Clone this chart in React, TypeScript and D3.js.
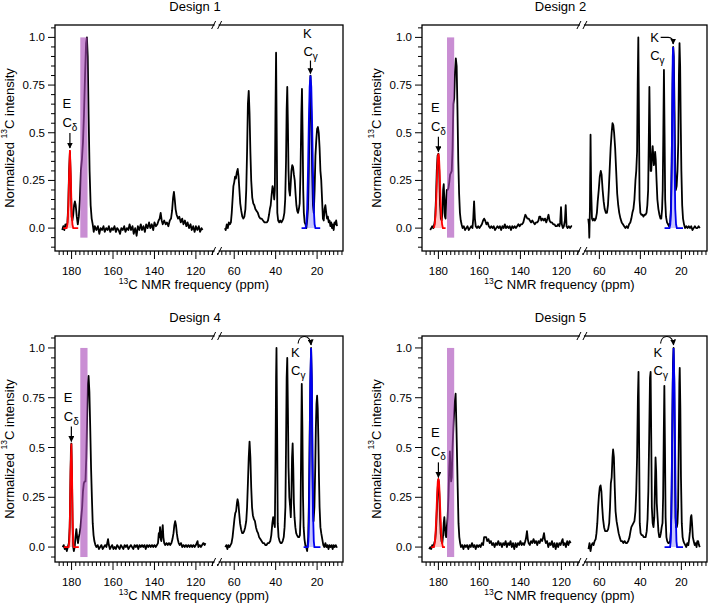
import React from 'react';
import * as d3 from 'd3';

type Pt = [number, number]; // [ppm, normalized intensity]

const titles = ['Design 1', 'Design 2', 'Design 4', 'Design 5'];
const xTicksLeft = [180, 160, 140, 120];
const xTicksRight = [60, 40, 20];
const yTicks = [0, 0.25, 0.5, 0.75, 1.0];
const yTickLabels = ['0.0', '0.25', '0.5', '0.75', '1.0'];
const bandPpm: Pt = [175.8, 172.3];
const bandInt: Pt = [-0.05, 1.0];

// ---- Design 1 ----
const d1Left: Pt[] = [
  [184.5, -0.01], [184, 0.01], [183.5, -0.01], [183, 0.02], [182.5, 0.01], [182, 0.03], [181.6, 0.12], [181.2, 0.3],
  [180.8, 0.4], [180.4, 0.25], [180, 0.06], [179.6, 0.04], [179.2, 0.07], [178.8, 0.12], [178.4, 0.14], [178, 0.12],
  [177.5, 0.06], [177, 0.02], [176.5, 0.06], [176, 0.15], [175.5, 0.3], [175, 0.36], [174.5, 0.45], [174, 0.6],
  [173.5, 0.8], [173, 0.97], [172.6, 1.0], [172.2, 0.9], [171.8, 0.6], [171.3, 0.3], [170.8, 0.12], [170.3, 0.05],
  [169.8, 0.02], [169.3, -0.02], [168.8, 0.01], [168, -0.01], [167.3, 0.01], [166.6, -0.03], [166, 0.0], [165.3, -0.01],
  [164.6, 0.01], [164, -0.02], [163.3, 0.0], [162.6, -0.01], [162, 0.01], [161.3, -0.02], [160.6, 0.0], [160, -0.01],
  [159.3, 0.01], [158.6, -0.02], [158, 0.0], [157.3, -0.01], [156.6, -0.03], [156, 0.0], [155.3, -0.01], [154.6, 0.01],
  [154, -0.02], [153.3, 0.0], [152.6, -0.01], [152, 0.02], [151.3, -0.01], [150.6, 0.01], [150, -0.03], [149.3, 0.0],
  [148.6, -0.04], [148, 0.01], [147.3, -0.01], [146.6, 0.02], [146, -0.01], [145.3, 0.01], [144.6, -0.02], [144, 0.02],
  [143.3, 0.0], [142.6, 0.03], [142, 0.0], [141.3, 0.02], [140.6, -0.01], [140, 0.03], [139.3, 0.01], [138.6, 0.02],
  [138, 0.04], [137.5, 0.05], [137, 0.08], [136.5, 0.04], [136, 0.02], [135.3, 0.04], [134.6, 0.02], [134, 0.03],
  [133.3, 0.01], [132.6, 0.04], [132, 0.05], [131.5, 0.09], [131, 0.16], [130.6, 0.19], [130.2, 0.15], [129.8, 0.1],
  [129.3, 0.07], [128.6, 0.05], [128, 0.06], [127.3, 0.03], [126.6, 0.05], [126, 0.02], [125.3, 0.04], [124.6, 0.01],
  [124, 0.03], [123.3, 0.0], [122.6, 0.02], [122, -0.01], [121.3, 0.01], [120.6, -0.02], [120, 0.01], [119.3, -0.01],
  [118.6, 0.01], [118, -0.02], [117.3, 0.0], [116.8, -0.01],
];
const d1Right: Pt[] = [
  [64.5, 0.0], [64.1, -0.01], [63.6, 0.02], [63.1, 0.0], [62.6, 0.03], [62.1, 0.02], [61.6, 0.03], [61.2, 0.08],
  [60.8, 0.15], [60.4, 0.22], [60, 0.24], [59.6, 0.27], [59.2, 0.26], [58.8, 0.29], [58.3, 0.31], [57.9, 0.27],
  [57.5, 0.2], [57.1, 0.13], [56.6, 0.09], [56.1, 0.06], [55.6, 0.05], [55.1, 0.06], [54.6, 0.1], [54.2, 0.2],
  [53.8, 0.4], [53.4, 0.65], [53, 0.72], [52.6, 0.6], [52.2, 0.4], [51.8, 0.25], [51.3, 0.16], [50.8, 0.13],
  [50.3, 0.12], [49.8, 0.1], [49.2, 0.09], [48.6, 0.08], [48, 0.06], [47.4, 0.05], [46.8, 0.05], [46.1, 0.04],
  [45.4, 0.03], [44.8, 0.03], [44.2, 0.03], [43.7, 0.04], [43.2, 0.07], [42.8, 0.1], [42.4, 0.12], [41.9, 0.18],
  [41.5, 0.22], [41.1, 0.2], [40.7, 0.15], [40.4, 0.2], [40.1, 0.6], [39.8, 0.92], [39.5, 0.5], [39.2, 0.08],
  [38.8, 0.04], [38.3, 0.03], [37.8, 0.04], [37.2, 0.03], [36.7, 0.04], [36.3, 0.05], [35.8, 0.08], [35.4, 0.15],
  [35, 0.35], [34.7, 0.62], [34.4, 0.74], [34.1, 0.55], [33.8, 0.3], [33.5, 0.2], [33.1, 0.17], [32.8, 0.22],
  [32.4, 0.3], [32, 0.33], [31.6, 0.32], [31.2, 0.28], [30.8, 0.25], [30.4, 0.18], [30, 0.12], [29.6, 0.09],
  [29.2, 0.08], [28.8, 0.1], [28.4, 0.13], [28, 0.3], [27.6, 0.6], [27.3, 0.73], [27, 0.5], [26.7, 0.2],
  [26.4, 0.08], [26, 0.03], [25.6, 0.02], [25.2, 0.0], [24.8, 0.04], [24.4, 0.1], [24, 0.3], [23.6, 0.6],
  [23.2, 0.8], [22.8, 0.6], [22.4, 0.3], [22, 0.12], [21.6, 0.08], [21.2, 0.2], [20.8, 0.38], [20.4, 0.46],
  [20, 0.52], [19.6, 0.53], [19.2, 0.5], [18.8, 0.42], [18.4, 0.3], [18, 0.25], [17.6, 0.15], [17.2, 0.05],
  [16.8, 0.04], [16.4, 0.1], [16, 0.12], [15.6, 0.08], [15.2, 0.05], [14.8, 0.06], [14.4, 0.03], [14, 0.04],
  [13.6, 0.01], [13.2, 0.03], [12.8, 0.0], [12.4, 0.02], [12, -0.01], [11.6, 0.03], [11.2, 0.02], [10.8, 0.04],
  [10.4, 0.01],
];
const d1Red: Pt[] = [
  [184, 0], [182.4, 0], [182, 0.02], [181.6, 0.1], [181.2, 0.28], [180.8, 0.41], [180.4, 0.28], [180, 0.1],
  [179.6, 0.02], [179.2, 0], [176.8, 0],
];
const d1Blue: Pt[] = [
  [27.5, 0], [25.6, 0], [25.2, 0.02], [24.8, 0.1], [24.4, 0.3], [24, 0.55], [23.6, 0.74], [23.2, 0.8],
  [22.8, 0.74], [22.4, 0.55], [22, 0.3], [21.6, 0.1], [21.2, 0.02], [20.8, 0], [18.5, 0],
];

// ---- Design 2 ----
const d2Left: Pt[] = [
  [184, -0.01], [183.5, 0.0], [183, 0.01], [182.5, 0.0], [182, 0.02], [181.6, 0.05], [181.2, 0.15], [180.8, 0.3],
  [180.4, 0.38], [180, 0.39], [179.6, 0.3], [179.2, 0.12], [178.8, 0.05], [178.4, 0.04], [178, 0.08], [177.7, 0.2],
  [177.4, 0.23], [177.1, 0.15], [176.8, 0.06], [176.5, 0.05], [176.2, 0.15], [175.9, 0.2], [175.5, 0.2], [175.1, 0.21],
  [174.7, 0.24], [174.3, 0.28], [173.9, 0.29], [173.5, 0.3], [173.1, 0.42], [172.7, 0.65], [172.3, 0.68], [171.9, 0.82],
  [171.5, 0.89], [171.1, 0.85], [170.7, 0.62], [170.3, 0.35], [169.9, 0.18], [169.5, 0.08], [169.1, 0.04], [168.7, 0.02],
  [168.2, 0.0], [167.6, 0.01], [167, -0.01], [166.4, 0.0], [165.8, 0.01], [165.2, -0.01], [164.6, 0.0], [164, 0.01],
  [163.4, 0.0], [163, 0.05], [162.6, 0.14], [162.2, 0.05], [161.8, 0.01], [161.2, 0.0], [160.6, 0.01], [160, 0.0],
  [159.4, 0.01], [158.8, 0.02], [158.2, 0.04], [157.7, 0.05], [157.2, 0.04], [156.6, 0.02], [156, 0.03], [155.4, 0.01],
  [154.8, 0.0], [154.2, 0.01], [153.6, 0.0], [153, 0.01], [152.4, -0.01], [151.8, 0.0], [151.2, 0.01], [150.6, 0.0],
  [150, 0.01], [149.4, -0.01], [148.8, 0.01], [148.2, 0.0], [147.6, 0.02], [147, 0.0], [146.4, 0.01], [145.8, 0.0],
  [145.2, 0.01], [144.6, -0.01], [144, 0.01], [143.4, 0.0], [142.8, 0.01], [142.2, 0.0], [141.6, 0.01], [141, 0.02],
  [140.4, 0.01], [139.8, 0.02], [139.2, 0.02], [138.6, 0.03], [138.1, 0.05], [137.6, 0.07], [137.1, 0.06], [136.6, 0.05],
  [136, 0.05], [135.4, 0.04], [134.8, 0.03], [134.2, 0.04], [133.6, 0.03], [133, 0.02], [132.4, 0.03], [131.8, 0.03],
  [131.2, 0.04], [130.8, 0.06], [130.3, 0.06], [129.8, 0.04], [129.2, 0.05], [128.6, 0.04], [128, 0.05], [127.4, 0.03],
  [126.8, 0.05], [126.3, 0.07], [125.8, 0.04], [125.2, 0.03], [124.6, 0.03], [124, 0.02], [123.4, 0.02], [122.8, 0.01],
  [122.2, 0.01], [121.6, 0.02], [121, 0.01], [120.6, 0.03], [120.2, 0.11], [119.8, 0.02], [119.3, 0.0], [118.8, 0.01],
  [118.3, 0.04], [117.9, 0.12], [117.5, 0.01], [117, 0.0], [116.4, 0.01], [115.8, 0.0], [115.2, 0.01], [114.8, 0.01],
];
const d2Right: Pt[] = [
  [65.4, 0.05], [65.1, 0.02], [64.9, -0.05], [64.6, 0.1], [64.3, 0.49], [64, 0.2], [63.6, 0.05], [63.2, 0.04],
  [62.7, 0.05], [62.2, 0.04], [61.7, 0.05], [61.2, 0.08], [60.8, 0.14], [60.3, 0.2], [59.8, 0.27], [59.3, 0.3],
  [58.9, 0.28], [58.4, 0.2], [57.9, 0.14], [57.4, 0.1], [56.8, 0.08], [56.3, 0.08], [55.8, 0.12], [55.4, 0.2],
  [55, 0.3], [54.5, 0.42], [54, 0.5], [53.6, 0.55], [53.2, 0.54], [52.8, 0.5], [52.3, 0.42], [51.8, 0.3],
  [51.3, 0.18], [50.8, 0.12], [50.3, 0.08], [49.7, 0.05], [49.1, 0.03], [48.5, 0.02], [47.9, 0.01], [47.3, 0.0],
  [46.7, 0.01], [46.1, 0.0], [45.5, 0.02], [44.9, 0.03], [44.4, 0.05], [43.9, 0.08], [43.4, 0.1], [42.9, 0.15],
  [42.4, 0.25], [42, 0.3], [41.6, 0.4], [41.3, 0.75], [41, 1.0], [40.7, 0.6], [40.4, 0.15], [40, 0.08],
  [39.5, 0.07], [39, 0.07], [38.5, 0.06], [38, 0.07], [37.5, 0.07], [37, 0.08], [36.6, 0.12], [36.2, 0.2],
  [35.9, 0.45], [35.6, 0.74], [35.3, 0.5], [35, 0.3], [34.7, 0.3], [34.3, 0.38], [34, 0.43], [33.7, 0.38],
  [33.4, 0.33], [33.1, 0.35], [32.8, 0.4], [32.5, 0.36], [32.1, 0.25], [31.7, 0.15], [31.2, 0.1], [30.7, 0.07],
  [30.2, 0.05], [29.8, 0.05], [29.4, 0.1], [29.1, 0.2], [28.8, 0.5], [28.5, 0.83], [28.2, 0.5], [27.9, 0.15],
  [27.5, 0.06], [27, 0.03], [26.5, 0.02], [26, 0.01], [25.5, 0.03], [25.1, 0.1], [24.7, 0.35], [24.3, 0.75],
  [24, 0.95], [23.7, 0.9], [23.3, 0.6], [23, 0.3], [22.7, 0.2], [22.3, 0.22], [21.9, 0.3], [21.5, 0.45],
  [21.2, 0.8], [20.9, 0.97], [20.6, 0.85], [20.3, 0.55], [20, 0.3], [19.6, 0.12], [19.2, 0.05], [18.7, 0.02],
  [18.2, 0.0], [17.6, 0.01], [17, 0.0], [16.4, 0.01], [15.8, 0.0], [15.2, 0.01], [14.6, -0.01], [14, 0.0],
  [13.4, 0.01], [12.8, 0.0], [12.2, 0.0], [11.6, 0.01], [11, 0.0],
];
const d2Red: Pt[] = [
  [182.2, 0], [181.8, 0.02], [181.4, 0.07], [181, 0.17], [180.6, 0.3], [180.3, 0.37], [180, 0.39], [179.7, 0.37],
  [179.4, 0.3], [179, 0.17], [178.6, 0.07], [178.2, 0.02], [177.8, 0], [176.5, 0],
];
const d2Blue: Pt[] = [
  [28.2, 0], [25.8, 0], [25.4, 0.02], [25, 0.1], [24.7, 0.35], [24.4, 0.7], [24.2, 0.9], [24, 0.95],
  [23.8, 0.9], [23.6, 0.7], [23.3, 0.35], [23, 0.1], [22.6, 0.02], [22.2, 0], [19.2, 0],
];

// ---- Design 4 ----
const d3Left: Pt[] = [
  [184.3, 0.0], [183.8, 0.01], [183.3, -0.01], [182.8, 0.0], [182.3, -0.02], [181.8, 0.0], [181.3, 0.02], [180.9, 0.1],
  [180.6, 0.3], [180.3, 0.5], [180.1, 0.52], [179.8, 0.35], [179.5, 0.1], [179.2, 0.0], [178.9, -0.02], [178.5, 0.0],
  [178.1, 0.05], [177.7, 0.09], [177.3, 0.05], [176.9, 0.02], [176.5, 0.05], [176.1, 0.07], [175.7, 0.1], [175.3, 0.15],
  [174.9, 0.2], [174.5, 0.28], [174.1, 0.32], [173.7, 0.33], [173.3, 0.33], [172.9, 0.45], [172.5, 0.65], [172.1, 0.82],
  [171.8, 0.86], [171.4, 0.78], [171, 0.6], [170.6, 0.4], [170.2, 0.25], [169.8, 0.12], [169.4, 0.06], [169, 0.03],
  [168.5, 0.01], [168, 0.0], [167.4, 0.01], [166.8, -0.01], [166.2, 0.0], [165.6, 0.01], [165, -0.01], [164.4, 0.0],
  [163.8, 0.01], [163.2, 0.0], [162.8, 0.02], [162.4, 0.04], [162, 0.01], [161.5, -0.01], [161, 0.0], [160.4, 0.01],
  [159.8, -0.01], [159.2, 0.0], [158.6, -0.01], [158, 0.01], [157.4, 0.0], [156.8, -0.01], [156.2, 0.01], [155.6, 0.0],
  [155, -0.01], [154.4, 0.01], [153.8, 0.0], [153.2, 0.01], [152.6, -0.01], [152, 0.0], [151.4, 0.01], [150.8, 0.0],
  [150.2, -0.01], [149.6, 0.01], [149, 0.0], [148.4, 0.01], [147.8, -0.01], [147.2, 0.01], [146.6, 0.0], [146, 0.01],
  [145.4, 0.0], [144.8, 0.01], [144.2, -0.01], [143.6, 0.01], [143, 0.0], [142.4, 0.01], [141.8, 0.0], [141.2, 0.01],
  [140.6, 0.0], [140, 0.01], [139.4, 0.0], [138.8, 0.01], [138.3, 0.02], [137.9, 0.07], [137.6, 0.05], [137.3, 0.1],
  [137, 0.04], [136.7, 0.03], [136.3, 0.08], [136, 0.11], [135.7, 0.05], [135.3, 0.02], [134.8, 0.01], [134.2, 0.02],
  [133.6, 0.01], [133, 0.02], [132.4, 0.01], [131.8, 0.02], [131.3, 0.04], [130.8, 0.07], [130.4, 0.11], [130, 0.13],
  [129.6, 0.11], [129.2, 0.07], [128.8, 0.04], [128.3, 0.02], [127.8, 0.01], [127.2, 0.02], [126.6, 0.0], [126, 0.01],
  [125.4, 0.0], [124.8, 0.01], [124.2, 0.0], [123.6, 0.01], [123, 0.0], [122.4, 0.01], [121.8, 0.0], [121.2, 0.01],
  [120.6, 0.0], [120, 0.01], [119.6, 0.02], [119.2, 0.03], [118.8, 0.0], [118.2, 0.01], [117.6, 0.0], [117, 0.01],
  [116.4, 0.02], [115.8, 0.01], [115.4, 0.02],
];
const d3Right: Pt[] = [
  [64.3, 0.0], [63.8, 0.01], [63.3, -0.01], [62.8, 0.01], [62.3, 0.0], [61.8, 0.01], [61.3, 0.02], [60.8, 0.05],
  [60.3, 0.1], [59.9, 0.14], [59.5, 0.17], [59.1, 0.18], [58.7, 0.22], [58.4, 0.24], [58, 0.22], [57.6, 0.17],
  [57.2, 0.12], [56.7, 0.09], [56.2, 0.07], [55.7, 0.07], [55.2, 0.08], [54.7, 0.1], [54.2, 0.13], [53.8, 0.2],
  [53.4, 0.32], [53, 0.45], [52.6, 0.53], [52.2, 0.45], [51.8, 0.3], [51.4, 0.2], [51, 0.16], [50.5, 0.14],
  [50, 0.13], [49.5, 0.1], [49, 0.08], [48.5, 0.07], [48, 0.05], [47.4, 0.04], [46.8, 0.03], [46.2, 0.02],
  [45.6, 0.02], [45, 0.01], [44.4, 0.01], [43.8, 0.02], [43.2, 0.02], [42.6, 0.03], [42.1, 0.06], [41.6, 0.12],
  [41.2, 0.15], [40.8, 0.12], [40.4, 0.1], [40.1, 0.4], [39.8, 0.85], [39.6, 1.0], [39.3, 0.6], [39, 0.12],
  [38.6, 0.05], [38.1, 0.03], [37.6, 0.02], [37.1, 0.02], [36.6, 0.03], [36.1, 0.05], [35.7, 0.1], [35.3, 0.2],
  [35, 0.5], [34.7, 0.85], [34.4, 0.95], [34.1, 0.7], [33.8, 0.4], [33.4, 0.25], [33, 0.2], [32.7, 0.15],
  [32.4, 0.25], [32.1, 0.45], [31.8, 0.52], [31.5, 0.4], [31.2, 0.22], [30.9, 0.15], [30.5, 0.1], [30.1, 0.07],
  [29.7, 0.06], [29.2, 0.05], [28.7, 0.05], [28.3, 0.06], [28, 0.15], [27.7, 0.5], [27.4, 0.82], [27.1, 0.6],
  [26.8, 0.25], [26.5, 0.1], [26.1, 0.04], [25.7, 0.01], [25.3, 0.0], [24.8, -0.02], [24.3, 0.05], [24, 0.2],
  [23.6, 0.55], [23.2, 0.85], [22.9, 1.0], [22.6, 0.85], [22.3, 0.45], [22, 0.18], [21.7, 0.13], [21.3, 0.2],
  [20.9, 0.4], [20.6, 0.6], [20.3, 0.72], [20, 0.76], [19.7, 0.7], [19.4, 0.55], [19.1, 0.35], [18.8, 0.2],
  [18.4, 0.1], [18, 0.07], [17.5, 0.04], [17, 0.01], [16.5, 0.0], [16, 0.02], [15.5, 0.0], [15, 0.01],
  [14.5, -0.01], [14, 0.01], [13.5, 0.0], [13, 0.01], [12.5, -0.01], [12, 0.01], [11.5, 0.0], [11, 0.01],
  [10.5, 0.0], [10.2, 0.0],
];
const d3Red: Pt[] = [
  [183.7, 0], [181.4, 0], [181.1, 0.03], [180.8, 0.15], [180.5, 0.38], [180.1, 0.52], [179.8, 0.38], [179.5, 0.15],
  [179.2, 0.03], [178.9, 0], [176.5, 0],
];
const d3Blue: Pt[] = [
  [26.5, 0], [24.5, 0], [24.2, 0.03], [23.9, 0.15], [23.6, 0.45], [23.3, 0.82], [22.9, 1.0], [22.5, 0.82],
  [22.2, 0.45], [21.9, 0.15], [21.6, 0.03], [21.3, 0], [18.4, 0],
];

// ---- Design 5 ----
const d4Left: Pt[] = [
  [184.5, -0.01], [184, 0.0], [183.5, -0.01], [183, 0.01], [182.5, 0.0], [182, 0.02], [181.5, 0.04], [181.1, 0.1],
  [180.7, 0.2], [180.3, 0.3], [180, 0.34], [179.7, 0.3], [179.3, 0.18], [178.9, 0.07], [178.5, 0.03], [178.1, 0.02],
  [177.7, 0.06], [177.4, 0.12], [177.1, 0.15], [176.8, 0.1], [176.5, 0.06], [176.2, 0.05], [175.9, 0.1], [175.5, 0.15],
  [175.1, 0.25], [174.7, 0.4], [174.4, 0.48], [174.1, 0.4], [173.8, 0.33], [173.5, 0.35], [173.1, 0.5], [172.7, 0.6],
  [172.3, 0.68], [171.9, 0.74], [171.6, 0.77], [171.2, 0.6], [170.9, 0.45], [170.6, 0.3], [170.2, 0.12], [169.8, 0.05],
  [169.4, 0.02], [169, 0.0], [168.4, 0.01], [167.8, -0.01], [167.2, 0.01], [166.6, 0.0], [166, 0.01], [165.4, -0.01],
  [164.8, 0.01], [164.2, 0.0], [163.6, 0.02], [163, 0.0], [162.4, 0.01], [161.8, -0.01], [161.2, 0.01], [160.6, 0.0],
  [160, 0.01], [159.4, 0.0], [158.8, 0.02], [158.2, 0.01], [157.7, 0.05], [157.2, 0.05], [156.7, 0.05], [156.2, 0.03],
  [155.6, 0.04], [155, 0.02], [154.4, 0.03], [153.8, 0.01], [153.2, 0.02], [152.6, 0.0], [152, 0.02], [151.4, 0.01],
  [150.8, 0.03], [150.2, 0.01], [149.6, 0.02], [149, 0.0], [148.4, 0.02], [147.8, 0.01], [147.2, 0.03], [146.6, 0.0],
  [146, 0.02], [145.4, 0.01], [144.8, 0.03], [144.2, 0.0], [143.6, 0.02], [143, -0.01], [142.4, 0.02], [141.8, 0.0],
  [141.2, 0.02], [140.6, 0.01], [140, 0.03], [139.4, 0.01], [138.8, 0.02], [138.2, 0.01], [137.6, 0.03], [137.2, 0.05],
  [136.8, 0.08], [136.4, 0.04], [136, 0.02], [135.4, 0.01], [134.8, 0.03], [134.2, 0.02], [133.6, 0.04], [133, 0.02],
  [132.4, 0.03], [131.8, 0.01], [131.2, 0.03], [130.6, 0.02], [130, 0.04], [129.4, 0.03], [128.9, 0.05], [128.5, 0.07],
  [128.1, 0.04], [127.6, 0.02], [127, 0.03], [126.4, 0.0], [125.8, 0.02], [125.2, 0.01], [124.6, 0.03], [124, 0.0],
  [123.4, 0.02], [122.8, -0.01], [122.2, 0.02], [121.6, 0.0], [121, 0.02], [120.4, 0.01], [119.8, 0.03], [119.4, 0.04],
  [119, 0.01], [118.4, 0.02], [117.8, 0.0], [117.2, 0.03], [116.6, 0.01], [116, 0.03], [115.5, 0.02],
];
const d4Right: Pt[] = [
  [65.3, -0.01], [64.8, 0.02], [64.3, -0.02], [63.8, 0.01], [63.3, 0.02], [62.8, 0.01], [62.3, 0.03], [61.8, 0.04],
  [61.4, 0.07], [61, 0.12], [60.6, 0.2], [60.2, 0.26], [59.8, 0.3], [59.4, 0.31], [59, 0.28], [58.6, 0.2],
  [58.2, 0.14], [57.7, 0.1], [57.2, 0.08], [56.7, 0.08], [56.2, 0.08], [55.7, 0.09], [55.2, 0.12], [54.8, 0.2],
  [54.4, 0.32], [54, 0.35], [53.6, 0.45], [53.3, 0.49], [52.9, 0.45], [52.5, 0.3], [52.1, 0.18], [51.6, 0.13],
  [51.1, 0.1], [50.6, 0.07], [50.1, 0.05], [49.5, 0.03], [48.9, 0.03], [48.3, 0.02], [47.7, 0.03], [47.1, 0.02],
  [46.5, 0.02], [45.9, 0.03], [45.3, 0.05], [44.8, 0.08], [44.4, 0.1], [43.9, 0.11], [43.4, 0.12], [42.9, 0.13],
  [42.4, 0.18], [42, 0.28], [41.6, 0.45], [41.2, 0.75], [40.9, 0.88], [40.6, 0.5], [40.3, 0.12], [39.9, 0.07],
  [39.4, 0.06], [38.9, 0.06], [38.4, 0.05], [37.9, 0.05], [37.4, 0.05], [36.9, 0.08], [36.5, 0.14], [36.1, 0.28],
  [35.7, 0.55], [35.3, 0.85], [35, 0.88], [34.7, 0.55], [34.4, 0.2], [34, 0.12], [33.6, 0.1], [33.2, 0.15],
  [32.9, 0.3], [32.6, 0.45], [32.3, 0.38], [32, 0.22], [31.6, 0.15], [31.2, 0.08], [30.8, 0.05], [30.4, 0.05],
  [30, 0.07], [29.6, 0.1], [29.2, 0.12], [28.9, 0.25], [28.6, 0.55], [28.3, 0.81], [28, 0.5], [27.7, 0.15],
  [27.3, 0.05], [26.9, 0.03], [26.4, 0.02], [26, 0.02], [25.5, 0.03], [25.1, 0.08], [24.7, 0.3], [24.4, 0.65],
  [24.1, 0.92], [23.8, 1.0], [23.5, 0.85], [23.2, 0.45], [22.9, 0.15], [22.6, 0.1], [22.2, 0.1], [21.9, 0.12],
  [21.6, 0.2], [21.3, 0.5], [21, 0.82], [20.8, 0.9], [20.5, 0.7], [20.2, 0.35], [19.8, 0.12], [19.4, 0.05],
  [19, 0.03], [18.6, 0.02], [18.1, 0.01], [17.6, 0.0], [17.1, 0.02], [16.6, 0.01], [16.2, 0.04], [15.8, 0.08],
  [15.4, 0.15], [15.1, 0.16], [14.8, 0.12], [14.4, 0.05], [14, 0.03], [13.5, 0.01], [13, 0.02], [12.6, 0.0],
  [12.2, 0.03], [11.8, 0.03], [11.4, 0.01], [11, 0.0],
];
const d4Red: Pt[] = [
  [183.5, 0], [182.2, 0], [181.8, 0.02], [181.4, 0.07], [181, 0.16], [180.6, 0.27], [180.3, 0.33], [180, 0.34],
  [179.7, 0.33], [179.4, 0.27], [179, 0.16], [178.6, 0.07], [178.2, 0.02], [177.8, 0], [176.8, 0],
];
const d4Blue: Pt[] = [
  [28.2, 0], [25.5, 0], [25.2, 0.03], [24.9, 0.15], [24.6, 0.45], [24.2, 0.82], [23.8, 1.0], [23.4, 0.82],
  [23, 0.45], [22.7, 0.15], [22.4, 0.03], [22.1, 0], [19.2, 0],
];

const spectra = [
  { left: d1Left, right: d1Right, red: d1Red, blue: d1Blue },
  { left: d2Left, right: d2Right, red: d2Red, blue: d2Blue },
  { left: d3Left, right: d3Right, red: d3Red, blue: d3Blue },
  { left: d4Left, right: d4Right, red: d4Red, blue: d4Blue },
];

// ---- layout ----
const W = 711;
const H = 605;
const FONT = '"Liberation Sans", Arial, Helvetica, sans-serif';
const LEFT_DOMAIN: Pt = [188, 110];
const RIGHT_DOMAIN: Pt = [68.5, 7.5];

type Frame = { x0: number; x1: number; y0: number; y1: number; yd: Pt; kStyle: 'straight' | 'hook' | 'arc' };
const frames: Frame[] = [
  { x0: 55, x1: 343, y0: 25, y1: 251, yd: [-0.12, 1.065], kStyle: 'straight' },
  { x0: 422, x1: 707, y0: 25, y1: 251, yd: [-0.12, 1.065], kStyle: 'hook' },
  { x0: 55, x1: 343, y0: 336, y1: 562, yd: [-0.075, 1.06], kStyle: 'arc' },
  { x0: 422, x1: 707, y0: 336, y1: 562, yd: [-0.075, 1.06], kStyle: 'arc' },
];

const peakOf = (arr: Pt[]) => arr.reduce((a, b) => (b[1] > a[1] ? b : a));

const Sup13 = () => (
  <tspan fontSize={8.5} dy={-5}>13</tspan>
);

const Panel = ({ idx }: { idx: number }) => {
  const f = frames[idx];
  const s = spectra[idx];
  const spanL = LEFT_DOMAIN[0] - LEFT_DOMAIN[1];
  const spanR = RIGHT_DOMAIN[0] - RIGHT_DOMAIN[1];
  const k = (f.x1 - f.x0) / (spanL + spanR);
  const xb = f.x0 + spanL * k;
  const xl = d3.scaleLinear().domain(LEFT_DOMAIN).range([f.x0, xb]);
  const xr = d3.scaleLinear().domain(RIGHT_DOMAIN).range([xb, f.x1]);
  const y = d3.scaleLinear().domain(f.yd).range([f.y1, f.y0]);

  const lineL = d3.line<Pt>().x(d => xl(d[0])).y(d => y(d[1]));
  const lineR = d3.line<Pt>().x(d => xr(d[0])).y(d => y(d[1]));
  const areaL = d3.area<Pt>().x(d => xl(d[0])).y0(y(0)).y1(d => y(d[1]));
  const areaR = d3.area<Pt>().x(d => xr(d[0])).y0(y(0)).y1(d => y(d[1]));

  const minorL = d3.range(186, 111, -2);
  const minorR = d3.range(68, 7, -2);
  const yMinor = d3.range(-2, 22).map(n => +(n * 0.05).toFixed(2)).filter(v => v > f.yd[0] && v < f.yd[1]);
  const isMajorY = (v: number) => Math.abs(v / 0.25 - Math.round(v / 0.25)) < 1e-6;

  const rp = peakOf(s.red);
  const bp = peakOf(s.blue);
  const ex = xl(rp[0]);
  const ey = y(rp[1]);
  const kx = xr(bp[0]);
  const ky = y(bp[1]);
  const cx = (f.x0 + f.x1) / 2;

  let kAnno: React.ReactNode;
  if (f.kStyle === 'straight') {
    kAnno = (
      <g>
        <text x={kx - 7.5} y={ky - 38}>K</text>
        <text x={kx - 7} y={ky - 20}>C<tspan fontSize={10} dy={4}>γ</tspan></text>
        <line x1={kx} y1={ky - 15} x2={kx} y2={ky - 2} stroke="#000" strokeWidth={1.2} markerEnd={`url(#ah${idx})`} />
      </g>
    );
  } else if (f.kStyle === 'hook') {
    kAnno = (
      <g>
        <text x={kx - 23} y={ky - 5}>K</text>
        <text x={kx - 23} y={ky + 13}>C<tspan fontSize={10} dy={4}>γ</tspan></text>
        <path
          d={`M${kx - 12.5},${ky - 9.5} L${kx - 5},${ky - 9.5} Q${kx},${ky - 9.5} ${kx},${ky - 3}`}
          fill="none" stroke="#000" strokeWidth={1.2} markerEnd={`url(#ah${idx})`}
        />
      </g>
    );
  } else {
    kAnno = (
      <g>
        <text x={kx - 20} y={ky + 9}>K</text>
        <text x={kx - 20} y={ky + 27}>C<tspan fontSize={10} dy={4}>γ</tspan></text>
        <path
          d={`M${kx - 13},${ky - 4.5} C${kx - 12},${ky - 14} ${kx - 1},${ky - 14} ${kx},${ky - 3}`}
          fill="none" stroke="#000" strokeWidth={1.2} markerEnd={`url(#ah${idx})`}
        />
      </g>
    );
  }

  return (
    <g fontFamily={FONT}>
      <defs>
        <marker id={`ah${idx}`} viewBox="0 0 10 10" refX={9} refY={5} markerWidth={5} markerHeight={5} orient="auto">
          <path d="M0,0 L10,5 L0,10 z" fill="#000" />
        </marker>
      </defs>

      {/* spectrum */}
      <path d={lineL(s.left) || ''} fill="none" stroke="#000" strokeWidth={1.8} strokeLinejoin="round" />
      <path d={lineR(s.right) || ''} fill="none" stroke="#000" strokeWidth={1.8} strokeLinejoin="round" />

      {/* deconvolved E Cδ and K Cγ peaks */}
      <path d={areaL(s.red) || ''} fill="#ff0000" fillOpacity={0.22} />
      <path d={lineL(s.red) || ''} fill="none" stroke="#ff0000" strokeWidth={1.8} />
      <path d={areaR(s.blue) || ''} fill="#0000ff" fillOpacity={0.22} />
      <path d={lineR(s.blue) || ''} fill="none" stroke="#0000f0" strokeWidth={1.8} />

      {/* carbonyl band */}
      <rect
        x={xl(bandPpm[0])}
        y={y(bandInt[1])}
        width={xl(bandPpm[1]) - xl(bandPpm[0])}
        height={y(bandInt[0]) - y(bandInt[1])}
        fill="#a848b8"
        fillOpacity={0.62}
      />

      {/* frame */}
      <rect x={f.x0} y={f.y0} width={f.x1 - f.x0} height={f.y1 - f.y0} fill="none" stroke="#000" strokeWidth={1.3} />

      {/* y axis */}
      {yMinor.map(v => (
        <line key={`y${v}`} x1={f.x0} x2={f.x0 - (isMajorY(v) ? 7 : 4)} y1={y(v)} y2={y(v)} stroke="#000" strokeWidth={1} />
      ))}
      {yTicks.map((v, i) => (
        <text key={`yl${v}`} x={f.x0 - 10} y={y(v)} textAnchor="end" dominantBaseline="central" fontSize={11.5}>
          {yTickLabels[i]}
        </text>
      ))}

      {/* x axis */}
      {minorL.map(v => (
        <line key={`xl${v}`} x1={xl(v)} x2={xl(v)} y1={f.y1} y2={f.y1 + (v % 20 === 0 ? 8 : 4)} stroke="#000" strokeWidth={1} />
      ))}
      {minorR.map(v => (
        <line key={`xr${v}`} x1={xr(v)} x2={xr(v)} y1={f.y1} y2={f.y1 + (v % 20 === 0 ? 8 : 4)} stroke="#000" strokeWidth={1} />
      ))}
      {xTicksLeft.map(v => (
        <text key={`tl${v}`} x={xl(v)} y={f.y1 + 24} textAnchor="middle" fontSize={11.5}>{v}</text>
      ))}
      {xTicksRight.map(v => (
        <text key={`tr${v}`} x={xr(v)} y={f.y1 + 24} textAnchor="middle" fontSize={11.5}>{v}</text>
      ))}

      {/* axis break marks */}
      {[f.y0, f.y1].map(yy => (
        <g key={`br${yy}`}>
          <rect x={xb - 2} y={yy - 2} width={4} height={4} fill="#fff" />
          <line x1={xb - 5} y1={yy + 4} x2={xb - 1} y2={yy - 4} stroke="#000" strokeWidth={1} />
          <line x1={xb + 1} y1={yy + 4} x2={xb + 5} y2={yy - 4} stroke="#000" strokeWidth={1} />
        </g>
      ))}

      {/* titles */}
      <text x={cx - 4} y={f.y0 - 14} textAnchor="middle" fontSize={13}>{titles[idx]}</text>
      <text x={cx - 5} y={f.y1 + 38} textAnchor="middle" fontSize={13}>
        <Sup13 />
        <tspan dy={5}>C NMR frequency (ppm)</tspan>
      </text>
      <text
        transform={`translate(${f.x0 - 46},${(f.y0 + f.y1) / 2}) rotate(-90)`}
        textAnchor="middle"
        dominantBaseline="central"
        fontSize={13}
      >
        Normalized <Sup13 />
        <tspan dy={5}>C intensity</tspan>
      </text>

      {/* annotations */}
      <g fontSize={13}>
        <text x={ex - 7.5} y={ey - 42}>E</text>
        <text x={ex - 7.5} y={ey - 23}>C<tspan fontSize={10} dy={4}>δ</tspan></text>
        <line x1={ex} y1={ey - 17} x2={ex} y2={ey - 2} stroke="#000" strokeWidth={1.2} markerEnd={`url(#ah${idx})`} />
        {kAnno}
      </g>
    </g>
  );
};

const App = () => (
  <svg width={W} height={H} style={{ position: 'absolute', left: 0, top: 0, background: '#fff' }}>
    {frames.map((_, i) => (
      <Panel key={i} idx={i} />
    ))}
  </svg>
);

export default App;
